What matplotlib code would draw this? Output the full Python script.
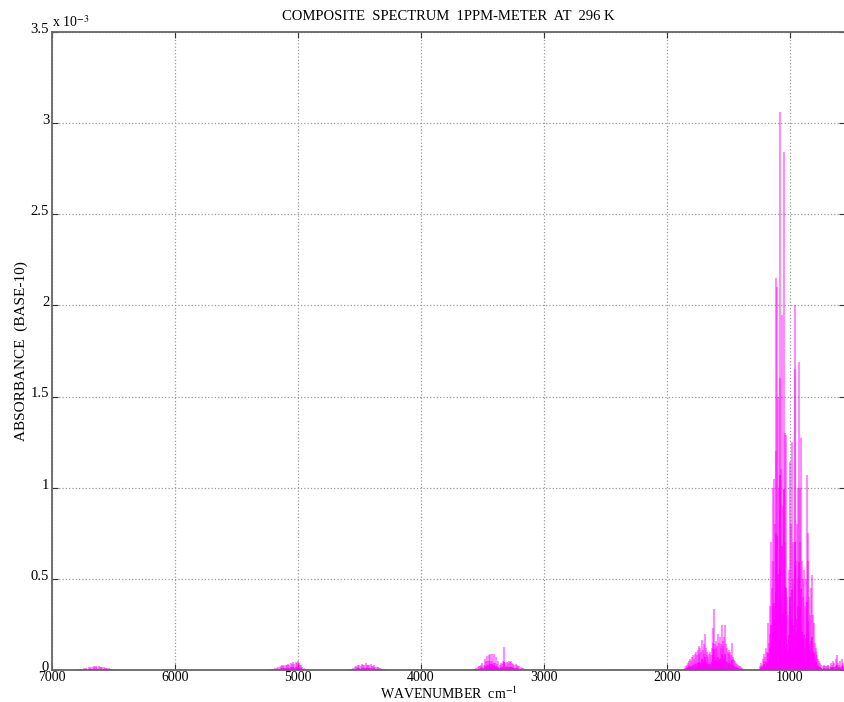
# Import libraries
import matplotlib
matplotlib.use('Agg')
import matplotlib.pyplot as plt
import matplotlib.transforms as mtransforms
from matplotlib.ticker import FuncFormatter

# Stick spectrum, wavenumber (cm-1) and absorbance (x 1e-3)
band_1000_wn = [1245, 1238, 1230, 1222, 1215, 1208, 1200, 1193, 1186, 1179, 1172, 1165, 1160,
                1154, 1148, 1142, 1136, 1130, 1124, 1116, 1110, 1102, 1096, 1090, 1085, 1079,
                1073, 1065, 1058, 1049, 1043, 1038, 1032, 1026, 1018, 1010, 1003, 997, 990,
                984, 978, 972, 963, 959, 952, 945, 938, 932, 927, 922, 916, 911, 905, 898,
                892, 885, 878, 870, 862, 856, 850, 845, 838, 830, 821, 815, 808, 800, 792,
                785, 778, 770, 762, 755, 745, 735, 725, 715, 705, 698, 690, 680, 670, 660,
                650, 640, 630, 618, 610, 600, 590, 580, 570, 560]
band_1000_abs = [0.02, 0.04, 0.03, 0.06, 0.05, 0.09, 0.07, 0.12, 0.10, 0.26, 0.15, 0.35, 0.20,
                 0.70, 0.45, 1.00, 0.60, 1.05, 0.80, 2.15, 1.20, 2.10, 1.50, 1.00, 1.60, 3.06,
                 1.10, 1.95, 0.90, 2.84, 0.70, 1.30, 1.29, 0.40, 0.30, 0.55, 1.14, 0.35, 0.80,
                 1.25, 0.50, 0.70, 2.00, 1.65, 0.60, 0.80, 1.00, 0.50, 1.69, 1.00, 0.70, 1.27,
                 0.60, 0.50, 0.40, 0.55, 0.35, 0.50, 1.07, 0.60, 0.75, 0.40, 0.30, 0.45, 0.52,
                 0.30, 0.26, 0.15, 0.12, 0.10, 0.08, 0.06, 0.05, 0.04, 0.03, 0.02, 0.03, 0.02,
                 0.02, 0.02, 0.03, 0.02, 0.04, 0.03, 0.05, 0.04, 0.06, 0.08, 0.04, 0.03, 0.05,
                 0.06, 0.04, 0.03]

band_1600_wn = [1857, 1848, 1840, 1832, 1825, 1818, 1810, 1802, 1795, 1788, 1780, 1772, 1765,
                1758, 1750, 1743, 1736, 1731, 1724, 1717, 1710, 1703, 1697, 1691, 1685, 1678,
                1672, 1665, 1658, 1650, 1645, 1638, 1630, 1624, 1618, 1612, 1605, 1598, 1592,
                1585, 1578, 1572, 1565, 1560, 1555, 1548, 1542, 1535, 1528, 1522, 1515, 1508,
                1500, 1493, 1486, 1480, 1474, 1467, 1460, 1452, 1445, 1438, 1430, 1422, 1415,
                1408, 1400, 1390]
band_1600_abs = [0.01, 0.02, 0.03, 0.04, 0.03, 0.05, 0.06, 0.05, 0.07, 0.08, 0.06, 0.09, 0.10,
                 0.08, 0.11, 0.09, 0.13, 0.12, 0.10, 0.165, 0.11, 0.09, 0.14, 0.20, 0.12, 0.08,
                 0.10, 0.07, 0.09, 0.10, 0.08, 0.12, 0.15, 0.23, 0.335, 0.14, 0.12, 0.16, 0.13,
                 0.20, 0.15, 0.18, 0.14, 0.12, 0.245, 0.16, 0.13, 0.18, 0.245, 0.14, 0.12, 0.10,
                 0.11, 0.09, 0.10, 0.08, 0.15, 0.07, 0.06, 0.055, 0.05, 0.04, 0.035, 0.03, 0.02,
                 0.02, 0.015, 0.01]

band_2400_wn = [2460, 2380]
band_2400_abs = [0.006, 0.005]

band_3400_wn = [3560, 3550, 3540, 3530, 3520, 3510, 3500, 3490, 3480, 3470, 3465, 3455, 3450,
                3440, 3435, 3425, 3420, 3410, 3405, 3395, 3390, 3380, 3370, 3360, 3350, 3340,
                3330, 3325, 3318, 3310, 3300, 3290, 3282, 3275, 3268, 3260, 3250, 3240, 3230,
                3220, 3210, 3200, 3190, 3180, 3170, 3160, 3145, 3130]
band_3400_abs = [0.005, 0.01, 0.015, 0.02, 0.02, 0.03, 0.04, 0.03, 0.06, 0.05, 0.075, 0.05, 0.08,
                 0.05, 0.09, 0.05, 0.09, 0.04, 0.085, 0.04, 0.07, 0.035, 0.05, 0.03, 0.04, 0.035,
                 0.05, 0.128, 0.04, 0.03, 0.045, 0.04, 0.05, 0.045, 0.05, 0.04, 0.035, 0.03, 0.035,
                 0.025, 0.02, 0.02, 0.015, 0.01, 0.01, 0.008, 0.005, 0.003]

band_4400_wn = [4580, 4565, 4550, 4540, 4530, 4520, 4510, 4500, 4490, 4480, 4470, 4460, 4450,
                4440, 4430, 4420, 4410, 4400, 4390, 4380, 4370, 4360, 4350, 4340, 4330, 4320,
                4310, 4300, 4290]
band_4400_abs = [0.003, 0.006, 0.01, 0.015, 0.02, 0.018, 0.025, 0.028, 0.022, 0.035, 0.03, 0.025,
                 0.037, 0.028, 0.03, 0.025, 0.032, 0.022, 0.02, 0.025, 0.018, 0.015, 0.017, 0.01,
                 0.012, 0.008, 0.006, 0.005, 0.003]

band_5000_wn = [5230, 5215, 5200, 5185, 5170, 5160, 5150, 5140, 5130, 5120, 5110, 5100, 5090,
                5080, 5070, 5060, 5050, 5040, 5030, 5020, 5010, 5000, 4995, 4985, 4975, 4965,
                4955, 4945]
band_5000_abs = [0.003, 0.005, 0.008, 0.01, 0.012, 0.015, 0.018, 0.02, 0.025, 0.02, 0.028, 0.025,
                 0.03, 0.035, 0.028, 0.04, 0.032, 0.045, 0.035, 0.045, 0.04, 0.05, 0.04, 0.03,
                 0.025, 0.015, 0.01, 0.005]

band_6600_wn = [6800, 6780, 6760, 6740, 6720, 6700, 6690, 6680, 6670, 6660, 6650, 6640, 6630,
                6620, 6610, 6600, 6590, 6580, 6570, 6560, 6550, 6540, 6530, 6520, 6500, 6480,
                6465]
band_6600_abs = [0.003, 0.006, 0.008, 0.01, 0.012, 0.015, 0.013, 0.018, 0.016, 0.02, 0.017, 0.022,
                 0.018, 0.02, 0.016, 0.018, 0.014, 0.015, 0.012, 0.013, 0.01, 0.009, 0.008,
                 0.007, 0.005, 0.004, 0.002]

bands = [(band_1000_wn, band_1000_abs), (band_1600_wn, band_1600_abs),
         (band_2400_wn, band_2400_abs), (band_3400_wn, band_3400_abs),
         (band_4400_wn, band_4400_abs), (band_5000_wn, band_5000_abs),
         (band_6600_wn, band_6600_abs)]

# matlab-ish look
plt.rcParams['font.family'] = ['Liberation Serif', 'DejaVu Serif']
plt.rcParams['mathtext.fontset'] = 'stix'
plt.rcParams['font.size'] = 10

fig = plt.figure(figsize=(8.45, 7.02), dpi=100)
ax = fig.add_axes([0.0615, 0.0456, 0.9385, 0.9088])

for wn, ab in bands:
    ax.vlines(wn, 0, [a * 1e-3 for a in ab], color='#ff00ff', linewidth=1.5, alpha=0.45)
    # darker core at the bottom of each line
    ax.vlines(wn, 0, [a * 0.35e-3 for a in ab], color='#ff00ff', linewidth=1.2, alpha=0.9)

ax.set_xlim(7000, 553)
ax.set_ylim(0, 3.5e-3)
ax.set_xticks([7000, 6000, 5000, 4000, 3000, 2000, 1000])
ax.set_yticks([i * 0.5e-3 for i in range(8)])
ax.yaxis.set_major_formatter(FuncFormatter(lambda v, p: '%g' % round(v * 1e3, 2)))

ax.grid(True, linestyle=':', color='#9a9a9a', linewidth=0.9)
ax.set_axisbelow(True)
ax.tick_params(direction='in', length=4, top=True, right=True, colors='#333333',
               labelcolor='black', labelsize=10)
ax.tick_params(axis='x', pad=1)
ax.tick_params(axis='y', pad=2, labelsize=10.5)
for s in ax.spines.values():
    s.set_color('#666666')
    s.set_linewidth(1.3)

# y tick labels sit a touch above their ticks, like the original
lift = mtransforms.ScaledTranslation(0, 3 / 72, fig.dpi_scale_trans)
for lbl in ax.get_yticklabels():
    lbl.set_transform(lbl.get_transform() + lift)

ax.set_title('COMPOSITE  SPECTRUM  1PPM-METER  AT  296 K', fontsize=10.5, pad=9)
ax.set_xlabel('WAVENUMBER  cm$^{-1}$', fontsize=10, va='bottom')
ax.xaxis.set_label_coords(0.5, -0.050)
ax.set_ylabel('ABSORBANCE  (BASE-10)', fontsize=11, labelpad=2)
ax.text(0.0, 1.003, 'x 10$^{-3}$', transform=ax.transAxes, fontsize=10, va='bottom', ha='left')

fig.savefig('out.png', dpi=100, facecolor='white')
